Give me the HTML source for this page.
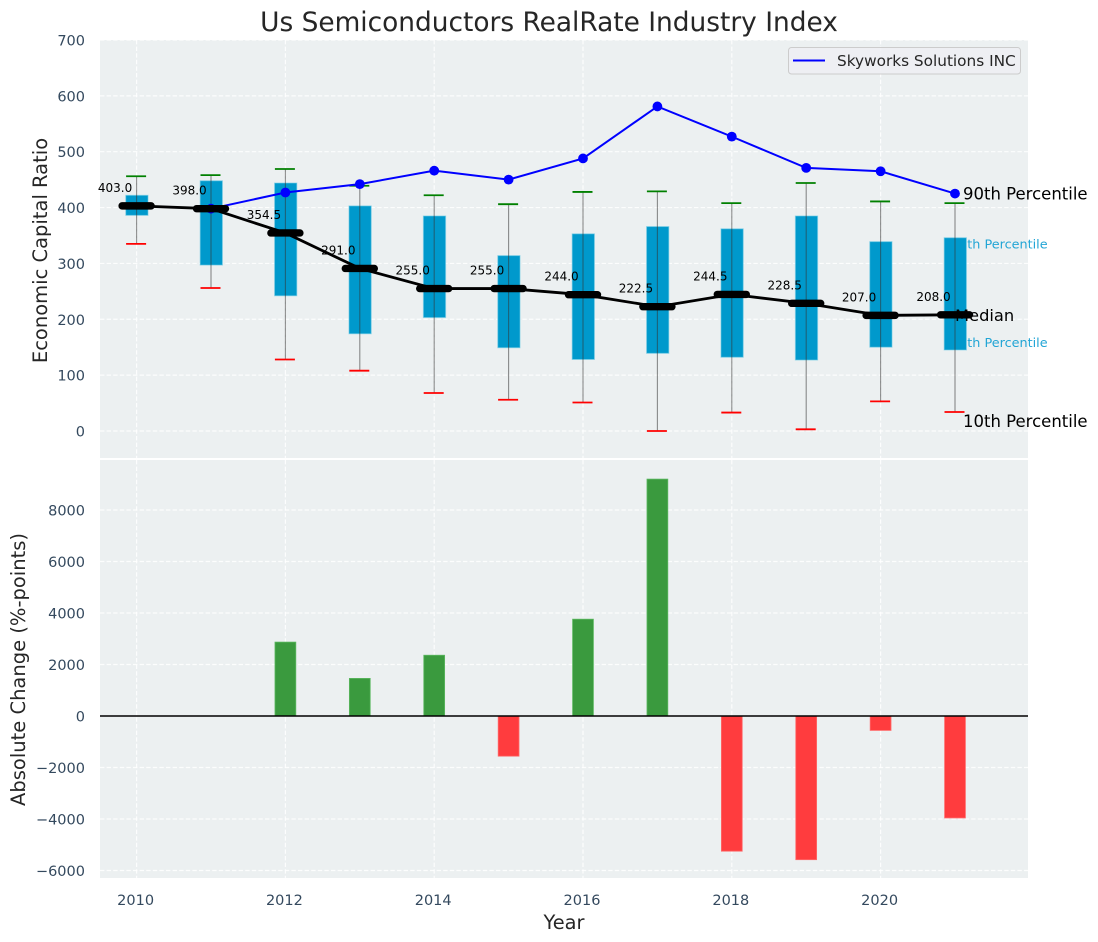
<!DOCTYPE html>
<html lang="en">
<head>
<meta charset="utf-8">
<title>Us Semiconductors RealRate Industry Index</title>
<style>
html,body{margin:0;padding:0;background:#fff;}
svg{display:block;}
text{font-family:"DejaVu Sans","Liberation Sans",sans-serif;}
</style>
</head>
<body>
<svg id="chart" xmlns="http://www.w3.org/2000/svg" width="1098" height="942" viewBox="0 0 1098 942"></svg>
<script>
const years = [2010,2011,2012,2013,2014,2015,2016,2017,2018,2019,2020,2021];
const p90 = [456,458,469,439,422,406,428,429,408,444,411,408];
const p75 = [422,448,444,403,385,314,353,366,362,385,339,346];
const medians = [403,398,354.5,291,255,255,244,222.5,244.5,228.5,207,208];
const p25 = [386,297,242,174,203,149,128,139,132,127,150,145];
const p10 = [335,256,128,108,68,56,51,0,33,3,53,34];
const companyYears = [2011,2012,2013,2014,2015,2016,2017,2018,2019,2020,2021];
const companyValues = [398,427,442,466,450,488,581,527,471,465,425];
const changeYears = [2012,2013,2014,2015,2016,2017,2018,2019,2020,2021];
const changeValues = [2870,1460,2360,-1560,3760,9200,-5250,-5580,-560,-3960];
const xTicks = [2010,2012,2014,2016,2018,2020];
const topTicks = [0,100,200,300,400,500,600,700];
const bottomTicks = [-6000,-4000,-2000,0,2000,4000,6000,8000];

const svg = document.getElementById('chart');
const NS = 'http://www.w3.org/2000/svg';
const xS = v => 136.6 + (v - 2010) * 74.4;
const yTop = v => 431 - v * 0.5586;
const yBot = v => 716 - v * 0.02575;

function add(tag, attrs, parent) {
  const el = document.createElementNS(NS, tag);
  for (const k in attrs) el.setAttribute(k, attrs[k]);
  (parent || svg).appendChild(el);
  return el;
}
function label(str, attrs) {
  const el = add('text', attrs);
  el.textContent = str;
  return el;
}
const fmt = v => String(v).replace('-', '\u2212');

/* panels */
let el = add('rect', {x:100,y:40,width:928,height:418,fill:'#ecf0f1'});


el = add('rect', {x:100,y:460,width:928,height:418,fill:'#ecf0f1'});



/* grid */
const gridStyle = {stroke:'#ffffff','stroke-width':1.2,'stroke-dasharray':'4.4 2.2','stroke-opacity':0.85};
xTicks.forEach(t => {
  el = add('line', Object.assign({x1:xS(t),x2:xS(t),y1:40,y2:458}, gridStyle));
  
  
  el = add('line', Object.assign({x1:xS(t),x2:xS(t),y1:460,y2:878}, gridStyle));
  
  
  el = label(String(t), {x:xS(t)-1,y:905,'text-anchor':'middle','font-size':14.5,fill:'#34495e'});
  
  
});
topTicks.forEach(t => {
  el = add('line', Object.assign({x1:100,x2:1028,y1:yTop(t),y2:yTop(t)}, gridStyle));
  
  
  el = label(fmt(t), {x:85,y:yTop(t)+5.5,'text-anchor':'end','font-size':14.5,fill:'#34495e'});
  
  
});
bottomTicks.forEach(t => {
  el = add('line', Object.assign({x1:100,x2:1028,y1:yBot(t),y2:yBot(t)}, gridStyle));
  
  
  el = label(fmt(t), {x:85,y:yBot(t)+5.5,'text-anchor':'end','font-size':14.5,fill:'#34495e'});
  
  
});

/* percentile labels hidden behind the last box */
const lastI = years.length - 1;
el = label('75th Percentile', {x:xS(years[lastI])-4,y:yTop(p75[lastI])+11,'font-size':12.8,fill:'#22a5d5'});


el = label('25th Percentile', {x:xS(years[lastI])-4,y:yTop(p25[lastI])-3,'font-size':12.8,fill:'#22a5d5'});



/* boxes */
years.forEach((yr, i) => {
  const cx = xS(yr), w = 0.3 * 74.4;
  el = add('rect', {x:cx-w/2+0.3,y:yTop(p75[i]),width:w,height:yTop(p25[i])-yTop(p75[i]),fill:'#0099cc',stroke:'#7fd0e8','stroke-width':1,'stroke-opacity':0.6});
  
  
});

/* whiskers */
years.forEach((yr, i) => {
  const cx = xS(yr);
  el = add('line', {x1:cx,x2:cx,y1:yTop(p90[i]),y2:yTop(p10[i]),stroke:'#333333','stroke-width':1.1,'stroke-opacity':0.55});
  
  
  el = add('line', {x1:cx-10.5,x2:cx+9.5,y1:yTop(p90[i]),y2:yTop(p90[i]),stroke:'#008000','stroke-width':1.8});
  
  
  el = add('line', {x1:cx-10.5,x2:cx+9.5,y1:yTop(p10[i]),y2:yTop(p10[i]),stroke:'#ff0000','stroke-width':1.8});
  
  
});

/* company series */
el = add('polyline', {points:companyYears.map((yr,i)=>xS(yr)+','+yTop(companyValues[i])).join(' '),fill:'none',stroke:'#0000ff','stroke-width':2});


companyYears.forEach((yr, i) => {
  el = add('circle', {cx:xS(yr),cy:yTop(companyValues[i]),r:4.9,fill:'#0000ff'});
  
  
});

/* side labels */
const lastX = xS(years[lastI]);
el = label('Median', {x:lastX,y:yTop(medians[lastI])+6,'font-size':16.3,fill:'#000000'});



/* median line */
el = add('polyline', {points:years.map((yr,i)=>xS(yr)+','+yTop(medians[i])).join(' '),fill:'none',stroke:'#000000','stroke-width':2.8});


years.forEach((yr, i) => {
  const cx = xS(yr);
  el = add('line', {x1:cx-14.5,x2:cx+14.5,y1:yTop(medians[i]),y2:yTop(medians[i]),stroke:'#000000','stroke-width':7.4,'stroke-linecap':'round'});
  
  
  el = label(medians[i].toFixed(1), {x:cx-21.5,y:yTop(medians[i])-14,'text-anchor':'middle','font-size':12,fill:'#000000'});
  
  
});

el = label('90th Percentile', {x:lastX+8,y:yTop(companyValues[companyValues.length-1])+6,'font-size':16.5,fill:'#000000'});


el = label('10th Percentile', {x:lastX+8,y:yTop(p10[lastI])+15,'font-size':16.5,fill:'#000000'});



/* change bars */
changeYears.forEach((yr, i) => {
  const v = changeValues[i], w = 0.28 * 74.4, a = yBot(Math.max(v,0)), b = yBot(Math.min(v,0));
  el = add('rect', {x:xS(yr)-w/2,y:a,width:w,height:b-a,fill:v>=0?'#3a9a3e':'#ff3c3e',stroke:v>=0?'#5cb860':'#ff6a6a','stroke-width':0.8});
  
  
});
el = add('line', {x1:100,x2:1028,y1:yBot(0),y2:yBot(0),stroke:'#000000','stroke-width':1.5});



/* legend */
el = add('rect', {x:788.5,y:47.5,width:232,height:26.5,rx:3,fill:'#eeeff3','fill-opacity':0.85,stroke:'#cccccc'});


el = add('line', {x1:793,x2:825,y1:60.5,y2:60.5,stroke:'#0000ff','stroke-width':2});


el = label('Skyworks Solutions INC', {x:837,y:66,'font-size':15.3,fill:'#262626'});



/* titles */
el = label('Us Semiconductors RealRate Industry Index', {x:549,y:31,'text-anchor':'middle','font-size':26.4,fill:'#262626'});


el = label('Economic Capital Ratio', {x:0,y:0,transform:'translate(47,250.5) rotate(-90)','text-anchor':'middle','font-size':19.5,fill:'#262626'});


el = label('Absolute Change (%-points)', {x:0,y:0,transform:'translate(25,669.5) rotate(-90)','text-anchor':'middle','font-size':19.5,fill:'#262626'});


el = label('Year', {x:564,y:929,'text-anchor':'middle','font-size':19.4,fill:'#262626'});


</script>
</body>
</html>
